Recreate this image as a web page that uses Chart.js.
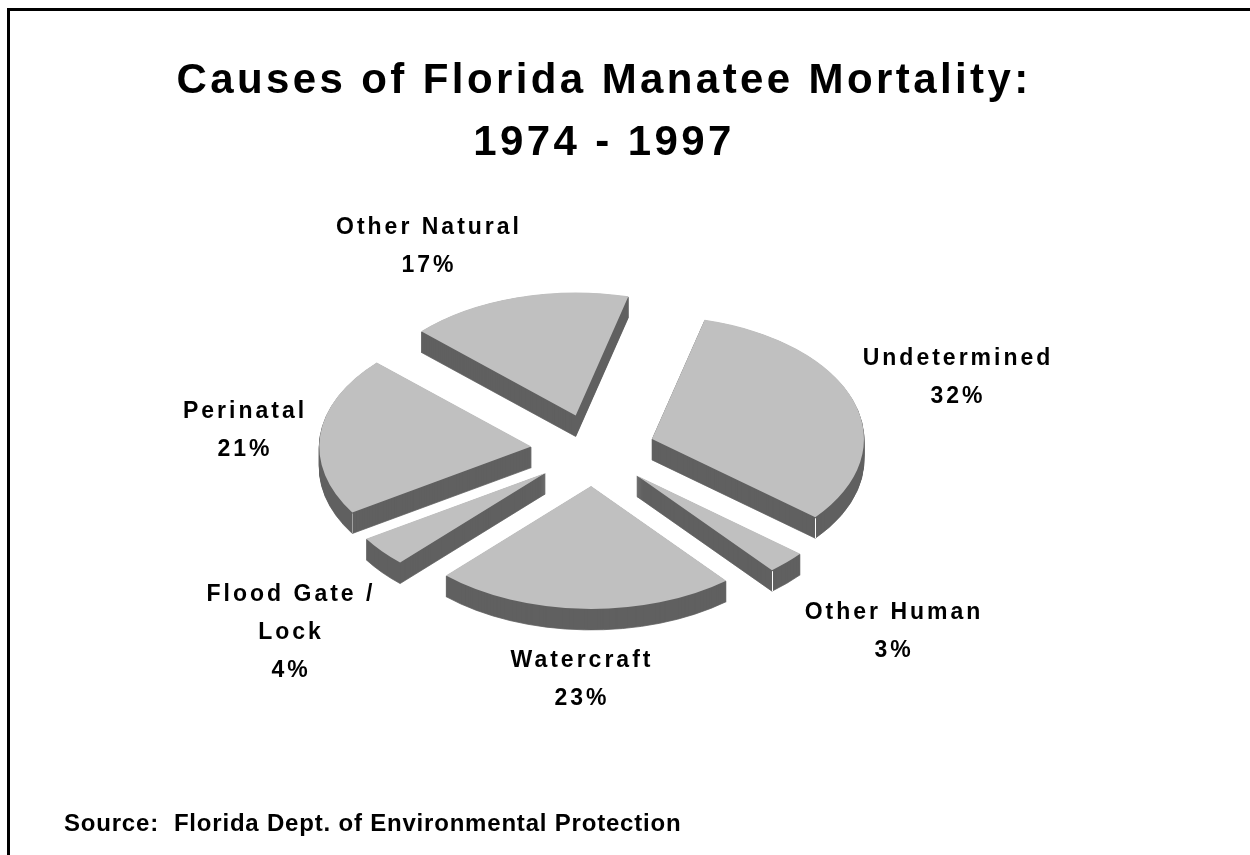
<!DOCTYPE html>
<html>
<head>
<meta charset="utf-8">
<title>Causes of Florida Manatee Mortality</title>
<script src="https://cdn.jsdelivr.net/npm/chart.js@4"></script>
<style>
  html, body { margin: 0; padding: 0; background: #fff; }
  canvas { display: block; }
</style>
</head>
<body>
<canvas id="pie" width="1250" height="855"></canvas>
<script>
const titleLines = ['Causes of Florida Manatee Mortality:', '1974 - 1997']
const sourceNote = 'Source:  Florida Dept. of Environmental Protection'

// clockwise from the Undetermined slice
const causes = ['Undetermined', 'Other Human', 'Watercraft', 'Flood Gate / Lock', 'Perinatal', 'Other Natural']
const shares = [32, 3, 23, 4, 21, 17]

// label text is wrapped by hand, same as the slide
const labelRows = [
  ['Undetermined', '32%'],
  ['Other Human', '3%'],
  ['Watercraft', '23%'],
  ['Flood Gate /', 'Lock', '4%'],
  ['Perinatal', '21%'],
  ['Other Natural', '17%']
]
const labelSpots = [[958, 359], [894, 613], [582, 661], [291, 595], [245, 412], [429, 228]]

const topColor = '#c0c0c0'
const sideColor = '#606060'
const edgeColors = ['#ffffff', '#ffffff', null, null, '#a0a0a0', null]

const pieCenter = { x: 593, y: 450 }
const tilt = 0.58
const depth = 21
const pieRadius = 212
const explode = 62

const sliceGap = arc => {
  const mid = (arc.startAngle + arc.endAngle) / 2
  return { x: Math.cos(mid) * explode, y: Math.sin(mid) * explode }
}

// pie laid back and pulled apart, with a wall under each slice
class TiltedPieController extends Chart.PieController {
  draw() {
    const ctx = this.chart.ctx
    const arcs = this._cachedMeta.data

    const place = (arc, drop) => {
      const gap = sliceGap(arc)
      ctx.translate(pieCenter.x, pieCenter.y + drop)
      ctx.scale(1, tilt)
      ctx.translate(gap.x - arc.x, gap.y - arc.y)
    }

    ctx.fillStyle = sideColor
    ctx.strokeStyle = sideColor
    ctx.lineWidth = 1
    ctx.lineJoin = 'round'
    for (let drop = depth; drop > 0; drop--) {
      arcs.forEach(arc => {
        ctx.save()
        place(arc, drop)
        ctx.beginPath()
        ctx.moveTo(arc.x, arc.y)
        ctx.arc(arc.x, arc.y, arc.outerRadius, arc.startAngle, arc.endAngle)
        ctx.closePath()
        ctx.fill()
        ctx.stroke() // keeps the thin slice tips from fading out
        ctx.restore()
      })
    }

    arcs.forEach(arc => {
      ctx.save()
      place(arc, 0)
      arc.draw(ctx)
      ctx.restore()
    })
  }
}
TiltedPieController.id = 'tiltedPie'
Chart.register(TiltedPieController)

const slideText = {
  id: 'slideText',
  beforeDraw(chart) {
    const ctx = chart.ctx
    // frame, open at the right and bottom
    ctx.fillStyle = '#000'
    ctx.fillRect(7, 8, 1243, 3)
    ctx.fillRect(7, 8, 3, 847)
    ctx.letterSpacing = '3.4px'
  },
  beforeDatasetsDraw(chart) {
    chart.ctx.letterSpacing = '0px'
  },
  afterDatasetsDraw(chart) {
    const ctx = chart.ctx

    // corner line where the straight wall meets the curved one
    chart.getDatasetMeta(0).data.forEach((arc, i) => {
      if (!edgeColors[i]) return
      const gap = sliceGap(arc)
      const angle = i < 2 ? arc.endAngle : arc.startAngle
      const px = pieCenter.x + gap.x + Math.cos(angle) * arc.outerRadius
      const py = pieCenter.y + tilt * (gap.y + Math.sin(angle) * arc.outerRadius)
      ctx.strokeStyle = edgeColors[i]
      ctx.lineWidth = 1
      ctx.beginPath()
      ctx.moveTo(Math.round(px) + 0.5, py + 1)
      ctx.lineTo(Math.round(px) + 0.5, py + depth)
      ctx.stroke()
    })

    // slice labels
    ctx.fillStyle = '#000'
    ctx.textAlign = 'center'
    ctx.textBaseline = 'middle'
    ctx.font = 'bold 23px "Liberation Sans"'
    ctx.letterSpacing = '3px'
    labelRows.forEach((rows, i) => {
      rows.forEach((row, r) => {
        ctx.fillText(row, labelSpots[i][0], labelSpots[i][1] + r * 38)
      })
    })

    ctx.font = 'bold 24px "Liberation Sans"'
    ctx.letterSpacing = '0.8px'
    ctx.textAlign = 'left'
    ctx.textBaseline = 'alphabetic'
    ctx.fillText(sourceNote, 64, 831)
  }
}

new Chart(document.getElementById('pie'), {
  type: 'tiltedPie',
  data: {
    labels: causes,
    datasets: [{
      data: shares,
      backgroundColor: topColor,
      borderWidth: 0,
      hoverOffset: 0,
      clip: false
    }]
  },
  options: {
    responsive: false,
    animation: false,
    rotation: 14.4,
    radius: pieRadius,
    layout: { padding: { top: 50, right: 42 } },
    events: [],
    plugins: {
      legend: { display: false },
      tooltip: { enabled: false },
      title: {
        display: true,
        text: titleLines,
        color: '#000',
        font: { family: '"Liberation Sans"', size: 42, weight: 'bold', lineHeight: 1.476 },
        padding: 0
      }
    }
  },
  plugins: [slideText]
})
</script>
</body>
</html>
